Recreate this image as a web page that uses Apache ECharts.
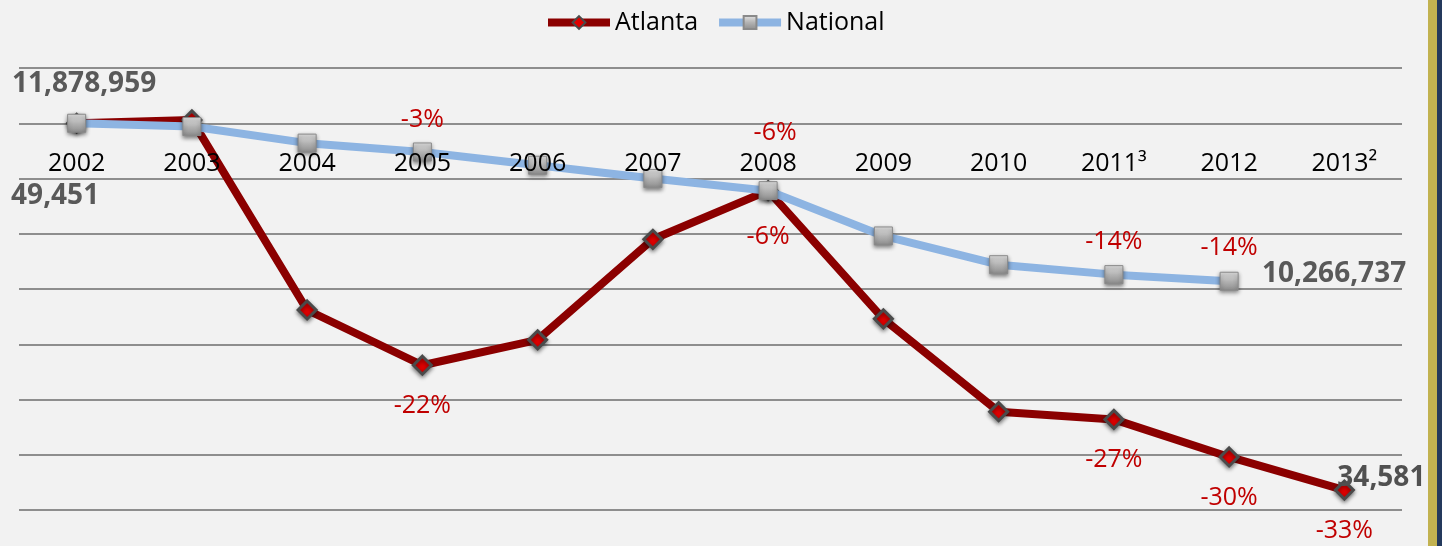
<!DOCTYPE html>
<html>
<head>
<meta charset="utf-8">
<style>
  html, body { margin: 0; padding: 0; background: #f2f2f2; }
  #chart { width: 1442px; height: 546px; }
</style>
<script src="https://cdn.jsdelivr.net/npm/echarts@6/dist/echarts.min.js"></script>
</head>
<body>
<div id="chart"></div>
<script>
// ---- data (percent change vs 2002) ----
const years = ['2002', '2003', '2004', '2005', '2006', '2007', '2008', '2009', '2010', '2011³', '2012', '2013²'];
const atlantaPct = [0, 0.3, -16.9, -21.9, -19.6, -10.5, -6.1, -17.7, -26.1, -26.8, -30.2, -33.2];
const nationalPct = [0, -0.3, -1.8, -2.6, -3.8, -5.0, -6.1, -10.2, -12.8, -13.7, -14.3, null];
const atlantaLabelIdx = [3, 6, 9, 10, 11];
const nationalLabelIdx = [3, 6, 9, 10];
const nationalCounts = ['11,878,959', '10,266,737']; // 2002, 2012
const atlantaCounts = ['49,451', '34,581'];          // 2002, 2013
const yMin = -35, yMax = 5, yStep = 5;

// ---- styling / placement (not data) ----
const FONT = '"Open Sans", "Liberation Sans", sans-serif';
const pctColor = '#c00000';
const atlantaOffsets = {3: [0, 41], 6: [0, 46], 9: [0, 40.5], 10: [0, 41], 11: [0, 41]};
const nationalOffsets = {3: [0, -32], 6: [7, -58], 9: [0, -32.5], 10: [0, -33]};
const GRID_TOP = 68, GRID_BOTTOM = 36;
const gridH = 546 - GRID_TOP - GRID_BOTTOM;
// shift the category axis from the grid bottom up to the zero line
const axisZeroOffset = -gridH * (0 - yMin) / (yMax - yMin);

function buildData(vals, idxList, offsets) {
  return vals.map((v, i) => {
    if (idxList.indexOf(i) < 0) return v;
    return {
      value: v,
      label: {
        show: true,
        position: 'inside',
        offset: offsets[i],
        formatter: Math.round(v) + '%',
        color: pctColor,
        fontFamily: FONT,
        fontSize: 25,
        align: 'center',
        verticalAlign: 'middle'
      }
    };
  });
}

function countMark(cat, val, text, offset, color) {
  return {
    coord: [cat, val],
    value: text,
    symbolSize: 0,
    label: {
      show: true,
      position: 'inside',
      offset: offset,
      formatter: text,
      color: color,
      fontFamily: FONT,
      fontWeight: 'bold',
      fontSize: 28,
      align: 'center',
      verticalAlign: 'middle'
    }
  };
}

const chart = echarts.init(document.getElementById('chart'), null, {renderer: 'canvas'});
const shadow = {shadowColor: 'rgba(0,0,0,0.45)', shadowBlur: 4, shadowOffsetY: 2};

chart.setOption({
  backgroundColor: '#f2f2f2',
  animation: false,
  legend: {
    left: 539,
    top: 5,
    itemWidth: 62,
    itemHeight: 16,
    itemGap: 17,
    textStyle: {fontFamily: FONT, fontSize: 25, color: '#000'},
    data: [
      {name: 'Atlanta', lineStyle: {width: 8, color: '#8b0000'}},
      {name: 'National', lineStyle: {width: 8, color: '#8db4e2'}}
    ]
  },
  grid: {left: 19, right: 40, top: GRID_TOP, bottom: GRID_BOTTOM, containLabel: false, outerBoundsMode: 'none'},
  xAxis: {
    type: 'category',
    data: years,
    boundaryGap: true,
    position: 'bottom',
    offset: axisZeroOffset,
    z: 10,
    axisLine: {show: false, onZero: false},
    axisTick: {show: false},
    splitLine: {show: false},
    axisLabel: {
      margin: 28,
      color: '#000',
      fontFamily: FONT,
      fontSize: 25,
      interval: 0
    }
  },
  yAxis: {
    type: 'value',
    min: yMin,
    max: yMax,
    interval: yStep,
    axisLine: {show: false},
    axisTick: {show: false},
    axisLabel: {show: false},
    splitLine: {show: true, lineStyle: {color: '#8e8e8e', width: 2}}
  },
  series: [
    {
      name: 'Atlanta',
      type: 'line',
      data: buildData(atlantaPct, atlantaLabelIdx, atlantaOffsets),
      symbol: 'diamond',
      symbolSize: 18,
      showAllSymbol: true,
      lineStyle: {color: '#8b0000', width: 8},
      itemStyle: Object.assign({color: '#e00000', borderColor: '#4a4a4a', borderWidth: 3}, shadow),
      z: 3,
      markPoint: {
        symbol: 'circle',
        symbolSize: 0,
        silent: true,
        data: [
          countMark(years[0], atlantaPct[0], atlantaCounts[0], [-21.5, 73], '#595959'),
          countMark(years[11], atlantaPct[11], atlantaCounts[1], [37, -12], '#505050')
        ]
      }
    },
    {
      name: 'National',
      type: 'line',
      data: buildData(nationalPct, nationalLabelIdx, nationalOffsets),
      symbol: 'rect',
      symbolSize: 18,
      showAllSymbol: true,
      connectNulls: false,
      lineStyle: {color: '#8db4e2', width: 8},
      itemStyle: Object.assign({
        color: new echarts.graphic.LinearGradient(0, 0, 0, 1, [
          {offset: 0, color: '#e6e6e6'},
          {offset: 0.5, color: '#b3b3b3'},
          {offset: 1, color: '#8c8c8c'}
        ]),
        borderColor: '#8a8a8a',
        borderWidth: 1
      }, shadow),
      z: 4,
      markPoint: {
        symbol: 'circle',
        symbolSize: 0,
        silent: true,
        data: [
          countMark(years[0], nationalPct[0], nationalCounts[0], [7.5, -39], '#595959'),
          countMark(years[10], nationalPct[10], nationalCounts[1], [105, -7], '#595959')
        ]
      }
    }
  ],
  graphic: [
    {type: 'rect', right: 5, top: 0, shape: {width: 9, height: 546}, style: {fill: '#c2b250'}, silent: true},
    {type: 'rect', right: 0, top: 0, shape: {width: 5, height: 546}, style: {fill: '#24395c'}, silent: true}
  ]
});
</script>
</body>
</html>
